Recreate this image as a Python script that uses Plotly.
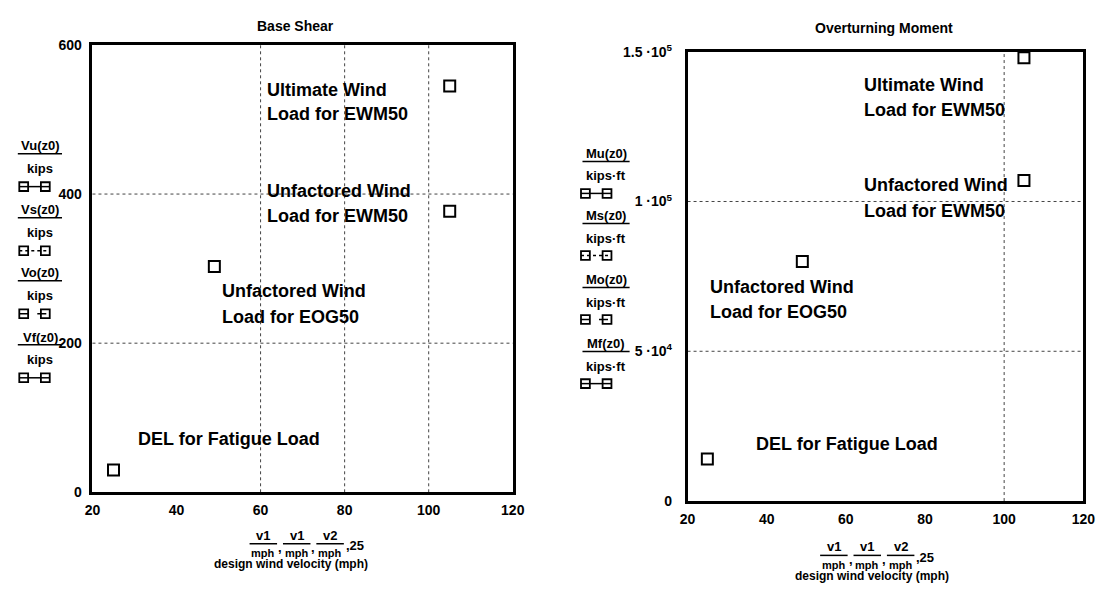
import plotly.graph_objects as go

# ---- data -------------------------------------------------------------
# design wind velocity (mph) for ultimate, unfactored EWM50, unfactored EOG50, DEL
velocity_mph = [105, 105, 49, 25]
base_shear_kips = [545, 377, 303, 30]
overturning_kipft = [148000, 107000, 80000, 14000]

shear_names = ["Vu(z0)", "Vs(z0)", "Vo(z0)", "Vf(z0)"]
moment_names = ["Mu(z0)", "Ms(z0)", "Mo(z0)", "Mf(z0)"]
glyph_dash = ["solid", "dot", "dash", "solid"]

shear_ticks = [0, 200, 400, 600]
moment_ticks = [0, 50000, 100000, 150000]
moment_ticktext = ["0", "5 ·10<sup>4</sup>", "1 ·10<sup>5</sup>", "1.5 ·10<sup>5</sup>"]
x_ticks = [20, 40, 60, 80, 100, 120]

W, H = 1112, 609
FONT = "Liberation Sans, Arial, sans-serif"


def px(x):
    return x / W


def py(y):
    return 1 - y / H


fig = go.Figure()

marker = dict(symbol="square-open", size=11, color="black", line=dict(width=2, color="black"))
fig.add_trace(go.Scatter(x=velocity_mph, y=base_shear_kips, mode="markers", marker=marker,
                         xaxis="x", yaxis="y", showlegend=False))
fig.add_trace(go.Scatter(x=velocity_mph, y=overturning_kipft, mode="markers", marker=marker,
                         xaxis="x2", yaxis="y2", showlegend=False))

axis_common = dict(showline=True, linewidth=2.5, linecolor="black", mirror=True,
                   showgrid=False, zeroline=False, ticks="",
                   tickfont=dict(family=FONT, size=14, color="black", weight="bold"))

fig.update_layout(
    width=W, height=H,
    margin=dict(l=0, r=0, t=0, b=0),
    paper_bgcolor="white", plot_bgcolor="white",
    xaxis=dict(domain=[px(86), px(514)], range=[20, 120], tickvals=x_ticks,
               anchor="y", ticklabelstandoff=3, **axis_common),
    yaxis=dict(domain=[py(497), py(36)], range=[0, 600], tickvals=shear_ticks,
               anchor="x", ticklabelstandoff=5, **axis_common),
    xaxis2=dict(domain=[px(692), px(1095)], range=[20, 120], tickvals=x_ticks,
                anchor="y2", ticklabelstandoff=3, **axis_common),
    yaxis2=dict(domain=[py(506), py(43)], range=[0, 150000], tickvals=moment_ticks,
                ticktext=moment_ticktext, anchor="x2", ticklabelstandoff=10, **axis_common),
)

shapes = []
annotations = []

# dotted grid lines
grid = dict(color="#444", width=1, dash="dot")
for xv in [60, 80, 100]:
    shapes.append(dict(type="line", xref="x", yref="y domain", x0=xv, x1=xv, y0=0, y1=1, line=grid, layer="below"))
for yv in [200, 400]:
    shapes.append(dict(type="line", xref="x domain", yref="y", x0=0, x1=1, y0=yv, y1=yv, line=grid, layer="below"))
shapes.append(dict(type="line", xref="x2", yref="y2 domain", x0=100, x1=100, y0=0, y1=1, line=grid, layer="below"))
for yv in [50000, 100000]:
    shapes.append(dict(type="line", xref="x2 domain", yref="y2", x0=0, x1=1, y0=yv, y1=yv, line=grid, layer="below"))


def text(x, y, s, size=13, xanchor="center"):
    annotations.append(dict(x=px(x), y=py(y), xref="paper", yref="paper", text=s, showarrow=False,
                            xanchor=xanchor, yanchor="middle",
                            font=dict(family=FONT, size=size, color="black", weight="bold")))


def hline(x0, x1, y, width=1.5, dash="solid"):
    shapes.append(dict(type="line", xref="paper", yref="paper", x0=px(x0), x1=px(x1),
                       y0=py(y), y1=py(y), line=dict(color="black", width=width, dash=dash)))


def glyph(xa, xb, y, dash):
    # trace-style sample: two square markers joined by the trace line
    hline(xa - 4.5, xb + 4.5, y, width=1.5, dash=dash)
    for xc in (xa, xb):
        shapes.append(dict(type="rect", xref="paper", yref="paper",
                           x0=px(xc - 4.5), x1=px(xc + 4.5), y0=py(y + 4.5), y1=py(y - 4.5),
                           line=dict(color="black", width=1.8)))


# titles
text(293, 17, "Base Shear", size=14)
text(892, 19, "Overturning Moment", size=14)

# y-axis label stacks
left_rows = [140, 206, 271, 337]
for name, top, dash in zip(shear_names, left_rows, glyph_dash):
    text(33, top, name, size=13)
    hline(10, 55, top + 8)
    text(33, top + 23, "kips", size=13)
    glyph(16, 38, top + 42, dash)

right_rows = [148, 212, 278, 344]
for name, top, dash in zip(moment_names, right_rows, glyph_dash):
    text(609, top, name, size=13)
    hline(585, 633, top + 8)
    text(609, top + 23, "kips·ft", size=13)
    glyph(588, 610, top + 41, dash)


# x-axis label: v1/mph, v1/mph, v2/mph, 25
def x_label(centers, y_top, x_design):
    for i, (c, v) in enumerate(zip(centers, ["v1", "v1", "v2"])):
        text(c, y_top, v, size=13)
        hline(c - 14, c + 14, y_top + 9)
        text(c, y_top + 19, "mph", size=11)
        if i < 2:
            text(c + 17, y_top + 13, ",", size=13)
    text(centers[-1] + 14, y_top + 11, ",25", size=13, xanchor="left")
    text(x_design, y_top + 30, "design wind velocity (mph)", size=12)


x_label([260, 294, 328], 541, 288)
x_label([841, 875, 909], 553, 880)

# load case labels inside the plots
BIG = 18
text(262, 82, "Ultimate Wind", size=BIG, xanchor="left")
text(262, 107, "Load for EWM50", size=BIG, xanchor="left")
text(262, 186, "Unfactored Wind", size=BIG, xanchor="left")
text(262, 212, "Load for EWM50", size=BIG, xanchor="left")
text(216, 290, "Unfactored Wind", size=BIG, xanchor="left")
text(216, 316, "Load for EOG50", size=BIG, xanchor="left")
text(130, 442, "DEL for Fatigue Load", size=BIG, xanchor="left")

text(870, 77, "Ultimate Wind", size=BIG, xanchor="left")
text(870, 103, "Load for EWM50", size=BIG, xanchor="left")
text(870, 180, "Unfactored Wind", size=BIG, xanchor="left")
text(870, 207, "Load for EWM50", size=BIG, xanchor="left")
text(713, 285, "Unfactored Wind", size=BIG, xanchor="left")
text(713, 311, "Load for EOG50", size=BIG, xanchor="left")
text(760, 447, "DEL for Fatigue Load", size=BIG, xanchor="left")

fig.update_layout(shapes=shapes, annotations=annotations)

fig.write_html("out.html")
